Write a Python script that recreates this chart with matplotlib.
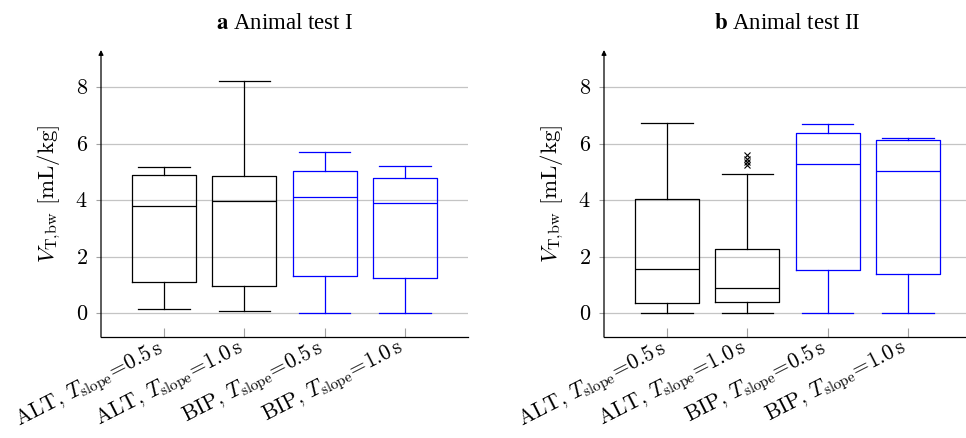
import matplotlib
matplotlib.use("Agg")
import matplotlib.pyplot as plt
from matplotlib.transforms import ScaledTranslation

plt.rcParams["mathtext.fontset"] = "cm"
plt.rcParams["font.family"] = ["Liberation Serif", "DejaVu Serif"]

# data
methods = ["ALT", "ALT", "BIP", "BIP"]
slopes = ["0.5", "1.0", "0.5", "1.0"]
box_colors = ["black", "black", "blue", "blue"]
y_ticks = [0, 2, 4, 6, 8]

titles = ["a", "b"]
subtitles = ["Animal test I", "Animal test II"]

test1_whislo = [0.14, 0.08, 0.0, 0.0]
test1_q1 = [1.12, 0.98, 1.32, 1.24]
test1_med = [3.81, 3.96, 4.10, 3.91]
test1_q3 = [4.91, 4.87, 5.05, 4.80]
test1_whishi = [5.18, 8.22, 5.71, 5.21]
test1_fliers = [[], [], [], []]

test2_whislo = [0.0, 0.0, 0.0, 0.0]
test2_q1 = [0.35, 0.40, 1.53, 1.38]
test2_med = [1.56, 0.88, 5.28, 5.05]
test2_q3 = [4.05, 2.26, 6.39, 6.13]
test2_whishi = [6.74, 4.94, 6.69, 6.19]
test2_fliers = [[], [5.25, 5.35, 5.45, 5.6], [], []]

tests = [
    (test1_whislo, test1_q1, test1_med, test1_q3, test1_whishi, test1_fliers),
    (test2_whislo, test2_q1, test2_med, test2_q3, test2_whishi, test2_fliers),
]

xlabels = [r"$\mathrm{%s},\,T_{\mathrm{slope}}\!=\!%s\,\mathrm{s}$" % (m, s)
           for m, s in zip(methods, slopes)]

fig = plt.figure(figsize=(9.66, 4.38), dpi=100)
W, H = 966, 438
lefts = [101, 604]
ax_w = 367
bottom = 337
top = 50

# nudge the rotated labels a bit left and up
label_shift = ScaledTranslation(-8 / 100, 7 / 100, fig.dpi_scale_trans)

for k, (lo, q1, med, q3, hi, fl) in enumerate(tests):
    ax = fig.add_axes([lefts[k] / W, (H - bottom) / H, ax_w / W, (bottom - top) / H])

    for i in range(4):
        stats = [{"whislo": lo[i], "q1": q1[i], "med": med[i], "q3": q3[i],
                  "whishi": hi[i], "fliers": fl[i]}]
        c = box_colors[i]
        ax.bxp(stats, positions=[i + 1], widths=0.8, capwidths=0.64,
               showfliers=True,
               boxprops=dict(color=c, lw=0.9),
               medianprops=dict(color=c, lw=0.9),
               whiskerprops=dict(color=c, lw=0.9),
               capprops=dict(color=c, lw=0.9),
               flierprops=dict(marker="x", markeredgecolor="black",
                               markersize=4, markeredgewidth=0.8))

    ax.set_xlim(0.22, 4.78)
    ax.set_ylim(-0.84, 9.32)
    ax.set_yticks(y_ticks, [r"$%d$" % t for t in y_ticks])
    ax.set_xticks([1, 2, 3, 4])
    ax.set_xticklabels(xlabels, rotation=27, ha="right", va="top",
                       rotation_mode="anchor")

    ax.tick_params(axis="y", direction="out", length=3.5, color="#a0a0a0",
                   labelsize=16, pad=6)
    ax.tick_params(axis="x", direction="in", length=6.5, color="#a0a0a0",
                   labelsize=15.5, pad=4)
    for lbl in ax.get_xticklabels():
        lbl.set_transform(lbl.get_transform() + label_shift)

    ax.yaxis.grid(True, color="#c4c4c4", lw=0.9)
    ax.set_axisbelow(True)

    for side in ["top", "right", "left"]:
        ax.spines[side].set_visible(False)
    ax.spines["bottom"].set_linewidth(0.9)

    ax.annotate("", xy=(0, 1), xytext=(0, 0), xycoords="axes fraction",
                arrowprops=dict(arrowstyle="-|>", color="black", lw=0.9,
                                mutation_scale=7, shrinkA=0, shrinkB=0),
                annotation_clip=False)

    ax.set_ylabel(r"$V_{\mathrm{T{,}bw}}\ [\mathrm{mL/kg}]$", fontsize=16.5,
                  labelpad=9)
    ax.set_title(r"$\mathbf{%s}$ %s" % (titles[k], subtitles[k]),
                 fontsize=16.5, math_fontfamily="stix", pad=15)

fig.savefig("out.png", dpi=100)
